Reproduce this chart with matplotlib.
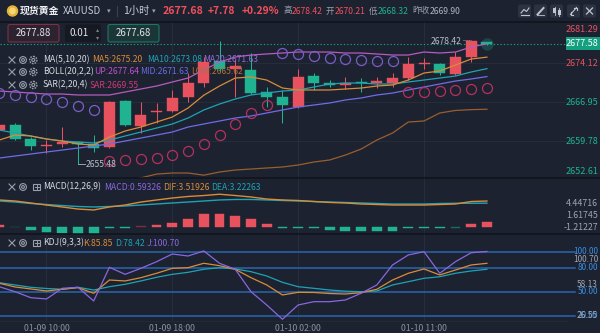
import matplotlib
matplotlib.use("Agg")
import matplotlib.pyplot as plt
import matplotlib.transforms as mtransforms
from matplotlib.patches import Rectangle, FancyBboxPatch, Circle
import numpy as np

plt.rcParams['font.family'] = ['Noto Sans CJK SC', 'DejaVu Sans']

# ---------------- data: XAUUSD 1h candles, 01-09 07:00 .. 01-10 15:00 ----------------
opens = [2661.80, 2662.72, 2660.15, 2658.95, 2659.23, 2659.60, 2659.23, 2658.68,
         2667.13, 2662.54, 2665.11, 2665.30, 2667.87, 2670.44, 2674.40, 2673.10,
         2672.83, 2668.79, 2667.87, 2666.03, 2671.73, 2670.44, 2670.08, 2670.63,
         2670.44, 2670.44, 2671.36, 2674.00, 2673.94, 2672.10, 2675.22, 2677.90]
highs = [2663.10, 2663.00, 2660.52, 2659.96, 2662.35, 2659.80, 2660.88, 2667.13,
         2667.30, 2666.95, 2666.77, 2669.16, 2672.28, 2675.22, 2678.20, 2674.67,
         2675.96, 2669.71, 2669.16, 2673.02, 2672.28, 2670.99, 2671.55, 2671.36,
         2671.55, 2672.28, 2675.22, 2675.04, 2674.12, 2676.14, 2678.42, 2678.00]
lows = [2661.40, 2659.90, 2658.12, 2657.57, 2658.68, 2655.48, 2657.76, 2658.55,
        2662.60, 2661.25, 2663.09, 2665.11, 2666.95, 2669.71, 2672.60, 2667.87,
        2668.40, 2666.03, 2663.09, 2665.85, 2669.16, 2669.71, 2669.34, 2668.79,
        2669.52, 2669.71, 2670.99, 2673.02, 2671.91, 2671.91, 2674.30, 2677.40]
closes = [2662.72, 2660.15, 2658.86, 2659.10, 2659.60, 2659.23, 2658.49, 2666.95,
          2662.72, 2664.56, 2665.30, 2667.69, 2670.44, 2674.30, 2673.10, 2673.60,
          2668.60, 2667.87, 2666.40, 2671.55, 2670.44, 2670.08, 2670.44, 2670.44,
          2670.81, 2671.36, 2673.94, 2674.15, 2672.28, 2675.22, 2678.20, 2677.58]

ma5 = [2659.96, 2660.88, 2660.70, 2660.15, 2659.78, 2659.23, 2659.04, 2660.51,
       2661.62, 2662.35, 2663.27, 2664.19, 2665.85, 2668.20, 2669.89, 2671.36,
       2671.55, 2670.99, 2669.52, 2669.16, 2669.16, 2669.16, 2669.34, 2669.52,
       2669.89, 2670.08, 2670.99, 2672.28, 2672.65, 2673.75, 2674.86, 2675.20]
ma10 = [2661.80, 2661.25, 2660.70, 2660.15, 2659.78, 2659.60, 2659.41, 2659.96,
        2660.70, 2661.43, 2662.17, 2662.91, 2664.01, 2665.48, 2666.58, 2667.50,
        2668.24, 2668.60, 2668.97, 2669.16, 2669.71, 2670.26, 2670.44, 2670.44,
        2670.26, 2670.26, 2670.63, 2670.99, 2671.36, 2671.73, 2672.47, 2673.08]
boll_mid = [2656.65, 2657.02, 2657.39, 2657.76, 2658.12, 2658.49, 2658.86, 2659.23,
            2659.78, 2660.33, 2660.88, 2661.43, 2662.35, 2662.91, 2663.46, 2664.01,
            2664.38, 2664.93, 2665.48, 2666.03, 2666.40, 2666.77, 2667.32, 2667.69,
            2668.24, 2668.60, 2669.16, 2669.71, 2670.26, 2670.81, 2671.18, 2671.63]
boll_up = [2668.97, 2668.79, 2668.60, 2668.42, 2668.42, 2668.24, 2668.24, 2668.24,
           2668.79, 2669.34, 2669.89, 2670.63, 2671.36, 2672.83, 2674.30, 2675.22,
           2675.59, 2675.78, 2675.96, 2676.14, 2676.14, 2676.14, 2675.96, 2675.96,
           2675.78, 2675.59, 2675.59, 2676.14, 2675.96, 2676.14, 2677.06, 2677.64]
boll_low = [2649.50, 2649.80, 2650.10, 2650.30, 2650.50, 2650.70, 2650.90, 2651.40,
            2652.20, 2653.00, 2653.70, 2653.90, 2653.90, 2653.50, 2654.08, 2654.45,
            2654.63, 2654.82, 2655.00, 2655.37, 2655.92, 2656.29, 2657.20, 2658.30,
            2659.96, 2661.25, 2663.27, 2663.46, 2664.93, 2665.40, 2665.55, 2665.62]
sar = [2668.60, 2668.24, 2667.87, 2667.50, 2666.95, 2666.21, 2665.48, 2656.10,
       2656.29, 2656.47, 2656.65, 2657.21, 2657.94, 2659.23, 2660.88, 2662.91,
       2664.93, 2666.40, 2675.96, 2675.78, 2675.41, 2675.04, 2674.86, 2674.67,
       2674.49, 2674.49, 2668.79, 2668.79, 2668.97, 2669.16, 2669.34, 2669.55]

dif = [3.66, 3.52, 3.25, 2.97, 2.70, 2.42, 2.29, 2.70, 2.97, 3.38, 3.66, 3.93,
       4.14, 4.27, 4.44716, 4.27, 4.07, 3.79, 3.66, 3.59, 3.45, 3.32, 3.25, 3.11,
       3.04, 2.97, 2.97, 2.97, 3.04, 3.11, 3.45, 3.51926]
dea = [3.52, 3.38, 3.18, 3.04, 2.90, 2.77, 2.70, 2.77, 2.84, 2.97, 3.11, 3.25,
       3.38, 3.52, 3.66, 3.73, 3.73, 3.66, 3.59, 3.52, 3.45, 3.38, 3.32, 3.25,
       3.18, 3.11, 3.11, 3.11, 3.18, 3.21, 3.21, 3.22263]
macd_hist = [0.20, -0.10, -0.45, -0.68, -0.85, -1.02, -1.21227, -0.22, -0.22, 0.10,
             0.23, 0.55, 1.00, 1.68, 1.68, 1.51, 1.00, 0.32, -0.23, -0.16, -0.23,
             -0.41, -0.55, -0.64, -0.64, -0.64, -0.23, -0.18, -0.23, -0.12, 0.37, 0.59326]

kdj_k = [60.9, 56.3, 53.8, 51.3, 53.4, 55.4, 48.4, 65.0, 63.8, 67.9, 73.4, 79.6,
         80.4, 85.9, 82.9, 78.4, 67.9, 58.8, 46.3, 49.6, 49.4, 48.1, 47.5, 49.1,
         53.4, 65.0, 73.4, 78.8, 71.3, 77.5, 83.8, 85.85]
kdj_d = [61.6, 58.8, 55.9, 54.4, 53.4, 55.9, 52.5, 56.6, 59.6, 63.8, 68.4, 72.1,
         74.6, 78.4, 80.4, 78.8, 75.4, 70.0, 62.1, 56.6, 54.6, 52.5, 51.0, 50.4,
         51.3, 58.8, 62.9, 67.1, 69.1, 73.4, 76.3, 78.42]
kdj_j = [56.6, 50.4, 42.9, 41.3, 54.6, 55.9, 38.8, 80.9, 72.1, 79.6, 87.9, 97.5,
         95.0, 101.3, 85.9, 78.4, 50.4, 33.8, 15.9, 33.8, 37.9, 37.9, 40.0, 48.4,
         58.8, 83.8, 96.3, 100.4, 73.4, 87.9, 99.1, 100.70]
kdj_levels = [20, 50, 80, 100]

time_ticks = [3, 11, 19, 27]
time_labels = ["01-09 10:00", "01-09 18:00", "01-10 02:00", "01-10 11:00"]

main_ticks = [2674.12, 2666.95, 2659.78]
main_top_label, main_bottom_label = 2681.29, 2652.61
macd_labels = ["4.44716", "1.61745", "-1.21227"]
kdj_side_labels = ["100.70", "58.13", "26.55"]

last_price, change, change_pct = 2677.68, 7.78, 0.29
day_high, day_open, day_low, prev_close = 2678.42, 2670.21, 2668.32, 2669.90
bid_price, lot_size, ask_price = 2677.88, 0.01, 2677.68
range_high, range_low = 2678.42, 2655.48
range_high_idx, range_low_idx = 30, 5

# ---------------- styling ----------------
BG = '#1c2230'
RED = '#e8525e'
GREEN = '#1fb392'
DIM_RED = '#7a2f3c'
DIM_GREEN = '#1b6b5c'
ORANGE = '#d98c3a'
TEAL = '#1ea3b5'
VIOLET = '#6e6ce8'
PINK = '#b65cc0'
BROWN = '#9a5e2e'
SAR_UP = '#7d5cc9'
SAR_DN = '#b8305f'
JPURP = '#8a66e0'
KBLUE = '#2a67ad'
GRID = '#272e3c'
TXT = '#d7dbe0'
GREY = '#9aa0aa'

W, H = 600, 333
fig = plt.figure(figsize=(W / 100, H / 100), dpi=100, facecolor=BG)


def rect(x0, y0, x1, y1):
    return [x0 / W, 1 - y1 / H, (x1 - x0) / W, (y1 - y0) / H]


PLOT_R = 567
XLIM = (0.045, 36.09)
ax = fig.add_axes(rect(0, 22, PLOT_R, 178))
axm = fig.add_axes(rect(0, 178, PLOT_R, 233.5))
axk = fig.add_axes(rect(0, 233.5, PLOT_R, 321))

for a in (ax, axm, axk):
    a.set_facecolor(BG)
    a.set_xlim(*XLIM)
    for s in a.spines.values():
        s.set_visible(False)
    a.tick_params(length=0, labelleft=False, labelright=False, labelbottom=False)
    a.set_yticks([])
    for t in time_ticks:
        a.axvline(t, color=GRID, lw=0.7, zorder=0)

x = np.arange(len(opens))
o = np.array(opens); c = np.array(closes); hi = np.array(highs); lo = np.array(lows)

# ---- main panel ----
ax.set_ylim(2652.98, 2681.66)
for p in main_ticks:
    ax.axhline(p, color=GRID, lw=0.6, zorder=0)

cols = np.where(c >= o, RED, GREEN)
ax.vlines(x, lo, hi, colors=cols, lw=0.75, zorder=3)
body_lo = np.minimum(o, c)
body_h = np.maximum(np.abs(c - o), 0.15)
ax.bar(x, body_h, bottom=body_lo, width=0.7, color=cols, edgecolor=cols, lw=0.3, zorder=4)

ax.plot(x, boll_low, color=BROWN, lw=0.9, zorder=5)
ax.plot(x, boll_up, color=PINK, lw=0.9, zorder=5)
ax.plot(x, boll_mid, color=VIOLET, lw=0.9, zorder=5)
ax.plot(x, ma10, color=TEAL, lw=0.9, zorder=5)
ax.plot(x, ma5, color=ORANGE, lw=0.9, zorder=5)

sar_a = np.array(sar)
above = sar_a > c
ax.plot(x[above], sar_a[above], 'o', ms=7.2, mfc='none', mec=SAR_UP, mew=0.9, zorder=6)
ax.plot(x[~above], sar_a[~above], 'o', ms=7.2, mfc='none', mec=SAR_DN, mew=0.9, zorder=6)

ax.axhline(closes[-1], color='#1a9e80', lw=0.8, ls=(0, (1.2, 1.8)), zorder=2)
ax.plot(x[-1], closes[-1], 'o', ms=9, color=GREEN, alpha=0.25, zorder=3, mew=0)

# range high / low markers
ax.plot([range_high_idx - 0.55, range_high_idx - 0.1], [range_high, range_high],
        color=GREY, lw=0.7, ls=(0, (1, 1)), zorder=6)
ax.text(range_high_idx - 0.6, range_high - 0.35, f"{range_high:.2f}", color='#b8bec8',
        fontsize=6.2, ha='right', va='center', zorder=7)
ax.plot([range_low_idx, range_low_idx + 0.45], [range_low, range_low], color=GREY, lw=0.7, zorder=6)
ax.text(range_low_idx + 0.5, range_low, f"{range_low:.2f}", color='#b8bec8',
        fontsize=6.2, ha='left', va='center', zorder=7)

# ---- MACD panel ----
axm.set_ylim(-0.932, 6.671)
h = np.array(macd_hist)
hcols = [(DIM_RED if v < 0.15 else RED) if v >= 0 else (DIM_GREEN if v > -0.15 else GREEN) for v in h]
axm.bar(x, h, width=0.62, color=hcols, edgecolor=hcols, lw=0.3, zorder=3)
axm.plot(x, dea, color=TEAL, lw=1.0, zorder=4)
axm.plot(x, dif, color=ORANGE, lw=1.0, zorder=5)

# ---- KDJ panel ----
axk.set_ylim(13.75, 123.125)
for lvl in kdj_levels:
    axk.axhline(lvl, xmax=1.014, color=KBLUE, lw=1.1, zorder=1, clip_on=False)
axk.plot(x, kdj_d, color=TEAL, lw=0.9, zorder=3)
axk.plot(x, kdj_k, color=ORANGE, lw=0.9, zorder=4)
axk.plot(x, kdj_j, color=JPURP, lw=0.9, zorder=5)
axk.set_xticks(time_ticks)
axk.set_xticklabels(time_labels)
axk.tick_params(axis='x', labelbottom=True, colors='#8a909c', labelsize=6.3, pad=2.5)

# ---------------- overlay: header, legends, axis labels ----------------
ov = fig.add_axes([0, 0, 1, 1], zorder=10)
ov.set_xlim(0, W); ov.set_ylim(H, 0); ov.axis('off'); ov.patch.set_visible(False)


def T(xp, yp, s, color=TXT, size=6.2, ha='left', weight='normal', **kw):
    ov.text(xp, yp, s, color=color, fontsize=size, ha=ha, va='center', fontweight=weight, **kw)


# separators
for yy in (22, 178, 233.5):
    ov.plot([0, W], [yy, yy], color='#0f131b', lw=1.1)
ov.plot([0, PLOT_R], [321, 321], color='#252c39', lw=0.6)

# header row
ov.add_patch(Circle((12.5, 11), 5, color='#e7b43c'))
ov.add_patch(Circle((12.5, 11), 2.6, color='#f6d872'))
T(20, 11, "现货黄金", color='#eceef2', size=7.1, weight='bold')
T(63, 11, "XAUUSD", color='#c8ccd4', size=7.0)
T(107, 11.5, "▾", color='#9aa0aa', size=5.2)
ov.plot([117, 117], [6, 16], color='#3a4250', lw=0.8)
T(123, 11, "1小时", color='#c8ccd4', size=7.4)
T(152, 11.5, "▾", color='#9aa0aa', size=5.2)
T(163, 11, f"{last_price:.2f}", color='#f0505c', size=7.6, weight='bold')
T(208, 11, f"+{change:.2f}", color='#f0505c', size=7.4, weight='bold')
T(242, 11, f"+{change_pct:.2f}%", color='#f0505c', size=7.4, weight='bold')
HS = 6.2
T(283, 11, "高", color=GREY, size=HS)
T(292, 11, f"{day_high:.2f}", color='#f0505c', size=HS)
T(326, 11, "开", color=GREY, size=HS)
T(335, 11, f"{day_open:.2f}", color='#f0505c', size=HS)
T(369, 11, "低", color=GREY, size=HS)
T(378, 11, f"{day_low:.2f}", color=GREEN, size=HS)
T(412, 11, "昨收", color=GREY, size=HS)
T(430, 11, f"{prev_close:.2f}", color='#b0b6c0', size=HS)

# toolbar buttons
bx = [518, 534, 550, 567, 583]
for b in bx:
    ov.add_patch(FancyBboxPatch((b, 4.5), 13, 13, boxstyle="round,pad=0,rounding_size=2",
                                fc='#2b3342', ec='none'))
ic = '#c0c6d0'
ov.plot([521, 524, 526.5, 529], [13, 9.5, 11.5, 8], color=ic, lw=0.8)
ov.plot([521, 529], [14.5, 14.5], color=ic, lw=0.8)
ov.plot([537.5, 543.5], [14.5, 8], color=ic, lw=1.4)
ov.plot([537, 544], [15, 15], color=ic, lw=0.6)
ov.add_patch(Rectangle((553.2, 8), 2.6, 5, fc=ic, ec='none'))
ov.add_patch(Rectangle((558, 9.5), 2.6, 5, fc=ic, ec='none'))
ov.plot([554.5, 554.5], [6.5, 14.5], color=ic, lw=0.6)
ov.plot([559.3, 559.3], [8, 16], color=ic, lw=0.6)
ov.plot([570.5, 576.5], [14.5, 7.5], color=ic, lw=0.8)
ov.plot([570.5, 570.5, 573], [12, 14.5, 14.5], color=ic, lw=0.8)
ov.plot([574, 576.5, 576.5], [7.5, 7.5, 10], color=ic, lw=0.8)
ov.plot([586.5, 592.5], [8, 14], color=ic, lw=0.9)
ov.plot([586.5, 592.5], [14, 8], color=ic, lw=0.9)

# order boxes
ov.add_patch(FancyBboxPatch((8, 24.5), 51, 17.5, boxstyle="round,pad=0,rounding_size=2",
                            fc='#2c2230', ec='#7a3344', lw=0.8))
T(33.5, 33.5, f"{bid_price:.2f}", color='#e2e4e8', size=7, ha='center')
ov.add_patch(FancyBboxPatch((65, 24.5), 36, 17.5, boxstyle="round,pad=0,rounding_size=2",
                            fc='#141922', ec='none'))
T(70, 33.5, f"{lot_size:.2f}", color='#e2e4e8', size=7)
T(97.5, 29.5, "▴", color='#7a808a', size=4.5, ha='center')
T(97.5, 37.5, "▾", color='#7a808a', size=4.5, ha='center')
ov.add_patch(FancyBboxPatch((108, 24.5), 51, 17.5, boxstyle="round,pad=0,rounding_size=2",
                            fc='#1b3636', ec='#1e7565', lw=0.8))
T(133.5, 33.5, f"{ask_price:.2f}", color='#e2e4e8', size=7, ha='center')


def icon_x(xc, yc):
    ov.plot([xc - 3, xc + 3], [yc - 3, yc + 3], color=GREY, lw=0.8)
    ov.plot([xc - 3, xc + 3], [yc + 3, yc - 3], color=GREY, lw=0.8)


def icon_eye(xc, yc):
    ov.add_patch(Circle((xc, yc), 3.4, fill=False, ec=GREY, lw=0.8))
    ov.add_patch(Circle((xc, yc), 1.4, fill=False, ec=GREY, lw=0.8))


def icon_gear(xc, yc):
    ov.add_patch(Circle((xc, yc), 3.6, fill=False, ec=GREY, lw=1.0, ls=(0, (1.2, 0.8))))
    ov.add_patch(Circle((xc, yc), 1.5, fill=False, ec=GREY, lw=0.8))


def icon_boxplus(xc, yc):
    ov.add_patch(Rectangle((xc - 3.3, yc - 3.3), 6.6, 6.6, fill=False, ec=GREY, lw=0.8))
    ov.plot([xc - 2, xc + 2], [yc, yc], color=GREY, lw=0.7)
    ov.plot([xc, xc], [yc - 2, yc + 2], color=GREY, lw=0.7)


for yy in (60, 72, 85):
    icon_x(12, yy); icon_eye(23, yy); icon_gear(33.3, yy)
for yy in (187, 243):
    icon_x(12, yy); icon_eye(23, yy); icon_boxplus(36.5, yy)

T(43, 60, "MA(5,10,20)")
T(92, 60, f"MA5:{ma5[-1]:.2f}", color=ORANGE)
T(147, 60, f"MA10:{ma10[-1]:.2f}", color=TEAL)
T(203, 60, f"MA20:{boll_mid[-1]:.2f}", color='#8f6fd8')
T(43, 72, "BOLL(20,2,2)")
T(94, 72, f"UP:{boll_up[-1]:.2f}", color='#c14fd1')
T(140, 72, f"MID:{boll_mid[-1]:.2f}", color='#6a6ae6')
T(191, 72, f"LOW:{boll_low[-1]:.2f}", color='#b0703a')
T(43, 85, "SAR(2,20,4)")
T(90, 85, f"SAR:{sar[-1]:.2f}", color='#d03a78')

T(43, 187, "MACD(12,26,9)")
T(104, 187, f"MACD:{macd_hist[-1]:.5f}", color=JPURP)
T(163, 187, f"DIF:{dif[-1]:.5f}", color=ORANGE)
T(211, 187, f"DEA:{dea[-1]:.5f}", color=TEAL)

T(43, 243, "KDJ(9,3,3)")
T(83, 243, f"K:{kdj_k[-1]:.2f}", color=ORANGE)
T(115, 243, f"D:{kdj_d[-1]:.2f}", color=TEAL)
T(147, 243, f"J:{kdj_j[-1]:.2f}", color=JPURP)

# right-hand price scale
main_tr = mtransforms.blended_transform_factory(ov.transData, ax.transData)
for p in main_ticks:
    ov.text(598, p, f"{p:.2f}", transform=main_tr, color=RED if p > prev_close else GREEN,
            fontsize=6.5, ha='right', va='center')
T(598, 30, f"{main_top_label:.2f}", color=RED, size=6.5, ha='right')
T(598, 171, f"{main_bottom_label:.2f}", color=GREEN, size=6.5, ha='right')
ov.add_patch(Rectangle((566, 36.5), 34, 13, fc='#14a07f', ec='none'))
T(598, 43, f"{closes[-1]:.2f}", color='white', size=6.5, ha='right')

for s, yy in zip(macd_labels, (203, 216, 228)):
    T(598, yy, s, color='#a0a6b0', size=6.3, ha='right')

kdj_tr = mtransforms.blended_transform_factory(ov.transData, axk.transData)
for lvl in kdj_levels:
    ov.text(598, lvl, f"{lvl:.2f}", transform=kdj_tr, color='#3b8be0', fontsize=6.0,
            ha='right', va='center')
for s, yy in zip(kdj_side_labels, (259.5, 284.5, 315.5)):
    T(598, yy, s, color='#a0a6b0', size=6.0, ha='right')

fig.savefig("out.png", dpi=100, facecolor=BG)
